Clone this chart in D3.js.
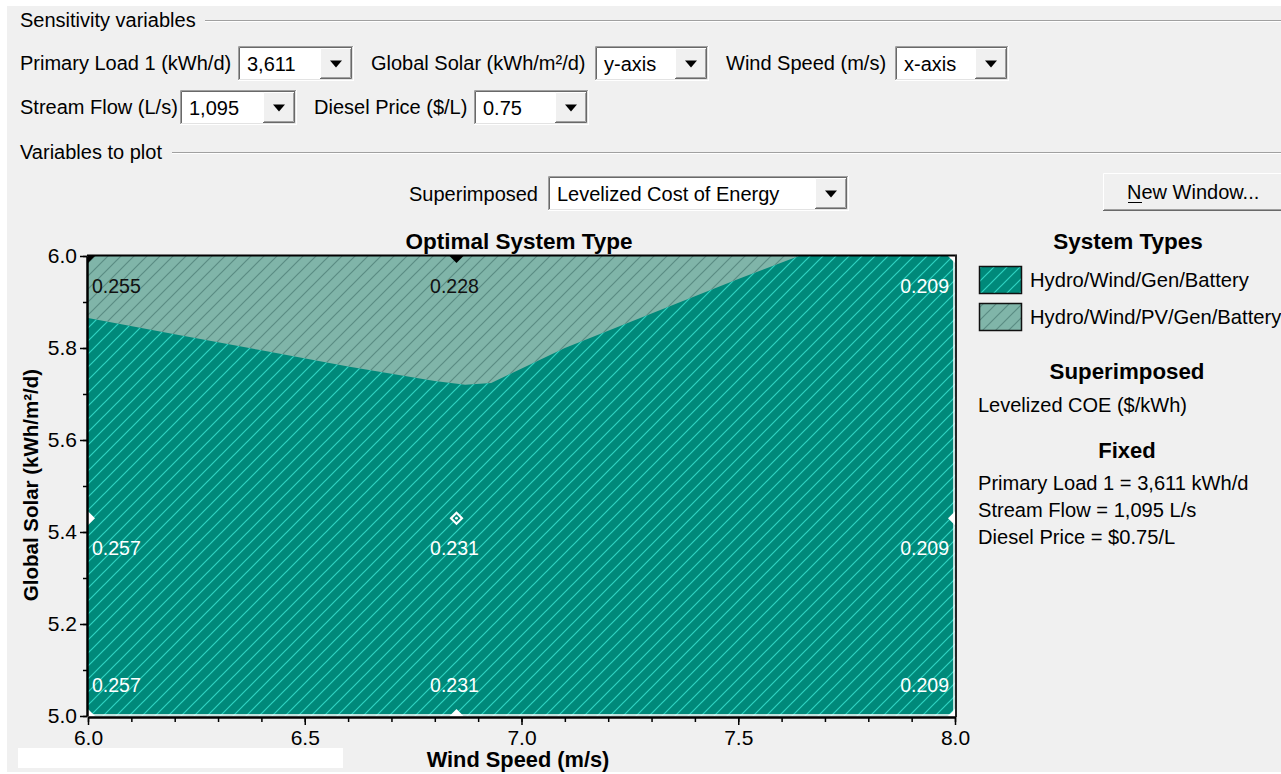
<!DOCTYPE html>
<html>
<head>
<meta charset="utf-8">
<script src="https://cdn.jsdelivr.net/npm/d3@7"></script>
<style>
  html, body { margin: 0; padding: 0; background: #ffffff; }
  svg { display: block; font-family: "Liberation Sans", Arial, sans-serif; }
</style>
</head>
<body>
<svg id="chart" width="1281" height="774"></svg>
<script>
// ---- sensitivity cases (x: wind speed, y: global solar) ----
const windSpeeds = [6.0, 6.85, 8.0];
const solarLevels = [6.0, 5.43, 5.0];
// levelized COE ($/kWh) per solar row, per wind column
const coeRows = [
  [0.255, 0.228, 0.209],
  [0.257, 0.231, 0.209],
  [0.257, 0.231, 0.209]
];
// optimal system type index per case (0 = Hydro/Wind/Gen/Battery, 1 = with PV)
const typeRows = [
  [1, 1, 0],
  [0, 0, 0],
  [0, 0, 0]
];
// boundary of the PV region (upper part of the plot)
const boundaryWind  = [6.0,   6.2,   6.4,  6.6,   6.8,   6.87,  6.93,  7.1,  7.3,   7.5,  7.64];
const boundarySolar = [5.865, 5.83,  5.795, 5.76, 5.728, 5.72,  5.724, 5.80, 5.875, 5.95, 6.0];

const systemTypes = ["Hydro/Wind/Gen/Battery", "Hydro/Wind/PV/Gen/Battery"];
const xTickValues = [6.0, 6.5, 7.0, 7.5, 8.0];
const yTickValues = [5.0, 5.2, 5.4, 5.6, 5.8, 6.0];
const fixedLines = ["Primary Load 1 = 3,611 kWh/d", "Stream Flow = 1,095 L/s", "Diesel Price = $0.75/L"];

const controlLabels = ["Primary Load 1 (kWh/d)", "Global Solar (kWh/m\u00B2/d)", "Wind Speed (m/s)", "Stream Flow (L/s)", "Diesel Price ($/L)"];
const controlValues = ["3,611", "y-axis", "x-axis", "1,095", "0.75"];

// ---- drawing ----
const svg = d3.select("#chart");
const defs = svg.append("defs");

const PANEL = "#f0f0f0";
const DARK_FILL = "#00897a", DARK_LINE = "#2ed3c2";
const LIGHT_FILL = "#80b5a9", LIGHT_LINE = "#5a8c83";
const UI_SIZE = 20;

function hatch(id, fill, line) {
  const p = defs.append("pattern").attr("id", id)
    .attr("patternUnits", "userSpaceOnUse").attr("width", 13).attr("height", 13);
  p.append("rect").attr("width", 13).attr("height", 13).attr("fill", fill);
  p.append("path").attr("d", "M-1,14 L14,-1 M-4,4 L4,-4 M9,17 L17,9")
    .attr("stroke", line).attr("stroke-width", 1.2).attr("fill", "none");
}
hatch("hatch0", DARK_FILL, DARK_LINE);
hatch("hatch1", LIGHT_FILL, LIGHT_LINE);

svg.append("rect").attr("x", 7).attr("y", 6).attr("width", 1274).attr("height", 766).attr("fill", PANEL);

// group headers with etched separator lines
function groupHeader(text, x, y, lineX) {
  svg.append("text").attr("x", x).attr("y", y).attr("font-size", UI_SIZE).attr("fill", "#000").text(text);
  svg.append("line").attr("x1", lineX).attr("x2", 1281).attr("y1", y - 6.5).attr("y2", y - 6.5).attr("stroke", "#a0a0a0");
  svg.append("line").attr("x1", lineX).attr("x2", 1281).attr("y1", y - 5.5).attr("y2", y - 5.5).attr("stroke", "#ffffff");
}
groupHeader("Sensitivity variables", 20, 27, 205);
groupHeader("Variables to plot", 20, 159, 172);

// combo box widget
function combo(x, y, w, h, value) {
  const g = svg.append("g");
  g.append("rect").attr("x", x).attr("y", y).attr("width", w).attr("height", h).attr("fill", "#fff");
  // sunken border
  g.append("path").attr("d", `M${x + 0.5},${y + h} V${y + 0.5} H${x + w}`).attr("stroke", "#a0a0a0").attr("fill", "none");
  g.append("path").attr("d", `M${x + 1.5},${y + h - 1} V${y + 1.5} H${x + w - 1}`).attr("stroke", "#696969").attr("fill", "none");
  g.append("path").attr("d", `M${x},${y + h - 0.5} H${x + w - 0.5} V${y}`).attr("stroke", "#ffffff").attr("fill", "none");
  g.append("path").attr("d", `M${x + 1},${y + h - 1.5} H${x + w - 1.5} V${y + 1}`).attr("stroke", "#e3e3e3").attr("fill", "none");
  // dropdown button
  const bw = 32, bx = x + w - bw - 2, by = y + 2, bh = h - 4;
  g.append("rect").attr("x", bx).attr("y", by).attr("width", bw).attr("height", bh).attr("fill", PANEL);
  g.append("path").attr("d", `M${bx + 0.5},${by + bh} V${by + 0.5} H${bx + bw}`).attr("stroke", "#ffffff").attr("fill", "none");
  g.append("path").attr("d", `M${bx},${by + bh - 0.5} H${bx + bw - 0.5} V${by}`).attr("stroke", "#696969").attr("fill", "none");
  g.append("path").attr("d", `M${bx + 1},${by + bh - 1.5} H${bx + bw - 1.5} V${by + 1}`).attr("stroke", "#a0a0a0").attr("fill", "none");
  const cx = bx + bw / 2, cy = by + bh / 2;
  g.append("path").attr("d", `M${cx - 6},${cy - 3} H${cx + 6} L${cx},${cy + 4} Z`).attr("fill", "#000");
  g.append("text").attr("x", x + 9).attr("y", y + h / 2 + 7).attr("font-size", UI_SIZE).text(value);
}

// control rows: label x, combo x, combo width, row top
const controlLayout = [
  { lx: 20,  bx: 238, bw: 116, top: 46 },
  { lx: 371, bx: 595, bw: 114, top: 46 },
  { lx: 726, bx: 895, bw: 114, top: 46 },
  { lx: 20,  bx: 180, bw: 117, top: 90 },
  { lx: 314, bx: 474, bw: 115, top: 90 }
];
controlLabels.forEach((lab, i) => {
  const L = controlLayout[i];
  svg.append("text").attr("x", L.lx).attr("y", L.top + 24).attr("font-size", UI_SIZE).text(lab);
  combo(L.bx, L.top, L.bw, 35, controlValues[i]);
});

svg.append("text").attr("x", 538).attr("y", 201).attr("text-anchor", "end").attr("font-size", UI_SIZE).text("Superimposed");
combo(548, 176, 301, 35, "Levelized Cost of Energy");

// "New Window..." button
{
  const bx = 1103, by = 173, bw = 180, bh = 38;
  svg.append("rect").attr("x", bx).attr("y", by).attr("width", bw).attr("height", bh).attr("fill", PANEL);
  svg.append("path").attr("d", `M${bx + 0.5},${by + bh} V${by + 0.5} H${bx + bw}`).attr("stroke", "#ffffff").attr("fill", "none");
  svg.append("path").attr("d", `M${bx},${by + bh - 0.5} H${bx + bw}`).attr("stroke", "#696969").attr("fill", "none");
  svg.append("path").attr("d", `M${bx + 1},${by + bh - 1.5} H${bx + bw}`).attr("stroke", "#a0a0a0").attr("fill", "none");
  svg.append("text").attr("x", 1127).attr("y", 199).attr("font-size", UI_SIZE).text("New Window...");
  svg.append("line").attr("x1", 1128).attr("x2", 1142).attr("y1", 202.5).attr("y2", 202.5).attr("stroke", "#000");
}

// ---- plot ----
const P = { left: 88, right: 955, top: 256, bottom: 716 };
const x = d3.scaleLinear().domain([6, 8]).range([P.left, P.right]);
const y = d3.scaleLinear().domain([5, 6]).range([P.bottom, P.top]);

defs.append("clipPath").attr("id", "plotClip").append("rect")
  .attr("x", P.left).attr("y", P.top).attr("width", P.right - P.left).attr("height", P.bottom - P.top);

const plot = svg.append("g").attr("clip-path", "url(#plotClip)");
plot.append("rect").attr("x", P.left).attr("y", P.top).attr("width", P.right - P.left).attr("height", P.bottom - P.top)
  .attr("fill", "url(#hatch0)");

const pvRegion = d3.area()
  .x(d => x(d[0]))
  .y0(y(6))
  .y1(d => y(d[1]));
plot.append("path")
  .datum(boundaryWind.map((w, i) => [w, boundarySolar[i]]))
  .attr("d", pvRegion)
  .attr("fill", "url(#hatch1)");

// inner light edge on bottom / right
plot.append("line").attr("x1", P.left).attr("x2", P.right).attr("y1", P.bottom - 1).attr("y2", P.bottom - 1).attr("stroke", "#fff").attr("stroke-width", 1.5);
plot.append("line").attr("x1", P.right - 1).attr("x2", P.right - 1).attr("y1", P.top).attr("y2", P.bottom).attr("stroke", "#fff").attr("stroke-width", 1.5);

// case markers: solid on the plot edges, hollow inside
const [w0, w1] = x.domain(), [s0, s1] = y.domain();
solarLevels.forEach((s, r) => {
  windSpeeds.forEach((w, c) => {
    const cx = x(w), cy = y(s), k = 7;
    const col = typeRows[r][c] === 1 ? "#000" : "#fff";
    plot.append("path").attr("d", `M${cx},${cy - k} L${cx + k},${cy} L${cx},${cy + k} L${cx - k},${cy} Z`)
      .attr("fill", col);
    const inside = w > w0 && w < w1 && s > s0 && s < s1;
    if (inside) {
      plot.append("path").attr("d", `M${cx},${cy - 4} L${cx + 4},${cy} L${cx},${cy + 4} L${cx - 4},${cy} Z`)
        .attr("fill", typeRows[r][c] === 1 ? LIGHT_FILL : DARK_FILL);
      plot.append("circle").attr("cx", cx).attr("cy", cy).attr("r", 1.4).attr("fill", col);
    }
  });
});

// COE value labels
const anchors = ["start", "middle", "end"];
const dxs = [4, -2, -6];
solarLevels.forEach((s, r) => {
  windSpeeds.forEach((w, c) => {
    plot.append("text")
      .attr("x", x(w) + dxs[c])
      .attr("y", Math.min(y(s) + 37, P.bottom - 24))
      .attr("text-anchor", anchors[c])
      .attr("font-size", 19.5)
      .attr("fill", typeRows[r][c] === 1 ? "#111" : "#fff")
      .text(coeRows[r][c].toFixed(3));
  });
});

// frame: top and right
svg.append("line").attr("x1", P.left - 1).attr("x2", P.right + 2).attr("y1", P.top - 0.5).attr("y2", P.top - 0.5).attr("stroke", "#000").attr("stroke-width", 2);
svg.append("line").attr("x1", P.right + 1).attr("x2", P.right + 1).attr("y1", P.top - 1).attr("y2", P.bottom + 1).attr("stroke", "#222").attr("stroke-width", 2);

// axes
const minorX = d3.range(6, 8.0001, 0.1);
const minorY = d3.range(5, 6.0001, 0.1);

const xAxisG = svg.append("g").attr("transform", `translate(0,${P.bottom + 1})`);
xAxisG.call(d3.axisBottom(x).tickValues(minorX).tickFormat("").tickSize(5).tickSizeOuter(0));
xAxisG.append("g").call(d3.axisBottom(x).tickValues(xTickValues).tickFormat(d3.format(".1f")).tickSize(8).tickSizeOuter(0).tickPadding(5));
xAxisG.selectAll("path.domain").attr("stroke", "#000").attr("stroke-width", 2);
xAxisG.selectAll("line").attr("stroke", "#000").attr("stroke-width", 1.5);
xAxisG.selectAll("text").attr("font-size", 21).attr("font-family", "Liberation Sans, Arial, sans-serif").attr("fill", "#000");

const yAxisG = svg.append("g").attr("transform", `translate(${P.left - 1},0)`);
yAxisG.call(d3.axisLeft(y).tickValues(minorY).tickFormat("").tickSize(4).tickSizeOuter(0));
yAxisG.append("g").call(d3.axisLeft(y).tickValues(yTickValues).tickFormat(d3.format(".1f")).tickSize(7).tickSizeOuter(0).tickPadding(3));
yAxisG.selectAll("path.domain").attr("stroke", "#000").attr("stroke-width", 2);
yAxisG.selectAll("line").attr("stroke", "#000").attr("stroke-width", 1.5);
yAxisG.selectAll("text").attr("font-size", 21).attr("font-family", "Liberation Sans, Arial, sans-serif").attr("fill", "#000");

// titles
svg.append("text").attr("x", 519).attr("y", 249).attr("text-anchor", "middle")
  .attr("font-size", 22.5).attr("font-weight", "bold").text("Optimal System Type");
svg.append("text").attr("x", 518).attr("y", 767).attr("text-anchor", "middle")
  .attr("font-size", 21.8).attr("font-weight", "bold").text("Wind Speed (m/s)");
svg.append("text").attr("transform", `translate(38,${(P.top + P.bottom) / 2 - 1}) rotate(-90)`).attr("text-anchor", "middle")
  .attr("font-size", 20.5).attr("font-weight", "bold").text("Global Solar (kWh/m\u00B2/d)");

// status bar patch
svg.append("rect").attr("x", 18).attr("y", 748).attr("width", 325).attr("height", 20).attr("fill", "#fff");

// ---- legend ----
svg.append("text").attr("x", 1128).attr("y", 249).attr("text-anchor", "middle").attr("font-size", 22.5).attr("font-weight", "bold").text("System Types");
systemTypes.forEach((t, i) => {
  const top = 266 + i * 37;
  svg.append("rect").attr("x", 979.5).attr("y", top + 0.5).attr("width", 42).attr("height", 27)
    .attr("fill", `url(#hatch${i})`).attr("stroke", "#111").attr("stroke-width", 1.5);
  svg.append("text").attr("x", 1030).attr("y", top + 21).attr("font-size", 20.2).text(t);
});
svg.append("text").attr("x", 1127).attr("y", 379).attr("text-anchor", "middle").attr("font-size", 22.3).attr("font-weight", "bold").text("Superimposed");
svg.append("text").attr("x", 978).attr("y", 412).attr("font-size", 20).text("Levelized COE ($/kWh)");
svg.append("text").attr("x", 1127).attr("y", 458).attr("text-anchor", "middle").attr("font-size", 22).attr("font-weight", "bold").text("Fixed");
fixedLines.forEach((t, i) => {
  svg.append("text").attr("x", 978).attr("y", 490 + i * 27).attr("font-size", 20.1).text(t);
});
</script>
</body>
</html>
